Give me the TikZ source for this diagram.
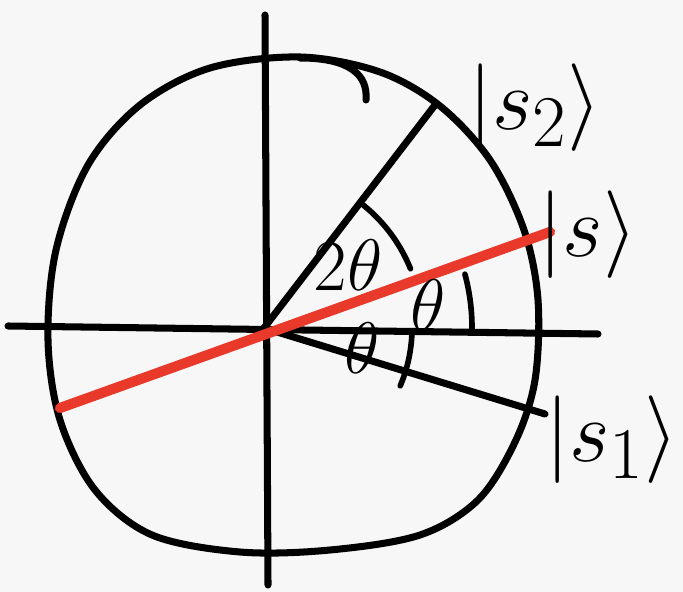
\documentclass[tikz,border=0pt]{standalone}
\usepackage{amsmath,amssymb}
\usepackage{xcolor}
\usepackage{tikz}
\usetikzlibrary{positioning,calc}

\definecolor{penred}{HTML}{E8392B}

\begin{document}
\begin{tikzpicture}[x=0.01cm, y=-0.01cm, line cap=round, line join=round,
  every node/.style={font=\fontsize{32}{36}\selectfont, inner sep=0pt},
  pen/.style={line width=2pt, black},
  redpen/.style={line width=2.9pt, penred},
  arcpen/.style={line width=1.6pt, black},
  anglab/.style={font=\fontsize{22}{26}\selectfont}]
\useasboundingbox[fill=white!97!black] (0,0) rectangle (683,592);

% origin and end points
\coordinate (O) at (264,328);
\coordinate (xl) at (8,326);
\coordinate (xr) at (598,334);
\coordinate (yt) at (265,15);
\coordinate (yb) at (268,585);
\coordinate (s2) at (435,105);
\coordinate (s1) at (545,414);
\coordinate (sl) at (60,408);
\coordinate (sr) at (550,232);

% the circle, drawn freehand
\draw[pen] plot[smooth cycle, tension=0.55] coordinates {
  (300,57) (380,72) (440,106) (490,160) (524,230) (538,300) (535,380)
  (515,442) (478,500) (420,535) (330,550) (240,552) (152,535) (95,490)
  (60,420) (48,340) (56,250) (88,165) (140,105) (210,68)};
\draw[pen] (300,58) .. controls (350,58) and (368,75) .. (366,100);

% axes
\draw[pen] (xl) -- (xr);
\draw[pen] (yt) -- (yb);

% state lines
\draw[pen] (O) -- (s2);
\draw[pen] (O) -- (s1);
\draw[redpen] (sl) -- (sr);

% angle arcs (y runs downward, so angles are negated)
\draw[arcpen] (O) ++(-51:158) arc (-51:-22:158);
\draw[arcpen] (O) ++(-15:208) arc (-15:1:208);
\draw[arcpen] (O) ++(2:148) arc (2:23:148);

% labels
\node (lab2) at (535,108) {$|s_2\rangle$};
\node (labs) at (588,235) {$|s\rangle$};
\node (lab1) at (612,440) {$|s_1\rangle$};
\node[anglab] (th2) at (348,265) {$2\theta$};
\node[anglab] (tha) at (428,305) {$\theta$};
\node[anglab] (thb) at (362,348) {$\theta$};
\end{tikzpicture}
\end{document}
